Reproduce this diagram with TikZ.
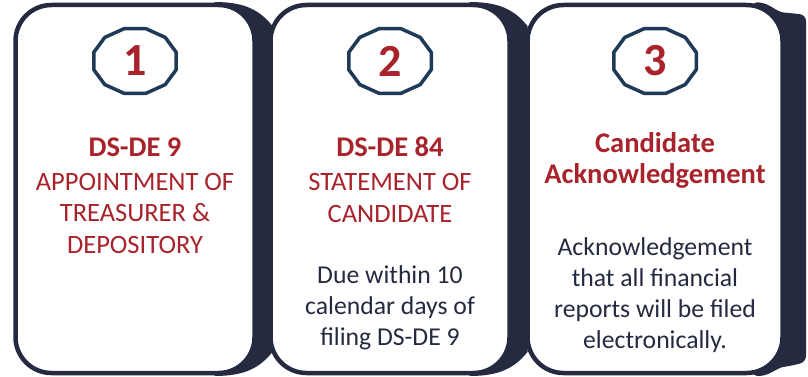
\documentclass[tikz,border=0pt]{standalone}
\usepackage{fontspec}
\setmainfont{Carlito}
\definecolor{navy}{HTML}{262A40}
\definecolor{badgeblue}{HTML}{1F3A57}
\definecolor{darkred}{HTML}{A8232B}

\begin{document}
\begin{tikzpicture}[
  x=1pt, y=-1pt,
  card/.style={
    draw=navy,
    line width=4.5pt,
    fill=white,
    rounded corners=36pt,
    minimum height=368pt,
    inner sep=0pt
  },
  strip/.style={fill=navy},
  badge/.style={draw=badgeblue, line width=3.5pt, line join=round},
  num/.style={font=\fontsize{46}{46}\selectfont\bfseries, text=darkred, inner sep=0pt},
  title/.style={font=\fontsize{28.5}{31}\selectfont\bfseries, text=darkred, align=center, inner sep=0pt, anchor=base},
  subtitle/.style={font=\fontsize{26.5}{31.5}\selectfont, text=darkred, align=center, inner sep=0pt, anchor=base},
  body/.style={font=\fontsize{25.7}{31}\selectfont, text=navy, align=center, inner sep=0pt, anchor=base}
]
\useasboundingbox (0,0) rectangle (808,377);

% dark strips behind the cards
\foreach \r in {254.5,509.5}
  \fill[strip] (\r-40,2) .. controls (\r-10,2) and (\r+5,10) .. (\r+18,26)
    -- (\r+18,352) .. controls (\r+5,368) and (\r-10,376) .. (\r-40,376) -- cycle;
\fill[strip, rounded corners=6pt] (752,2) .. controls (770,3) and (776,12) .. (790,13)
  -- (806,15) -- (806,362) -- (790,366) .. controls (776,368) and (770,376) .. (752,376) -- cycle;

% cards
\node[card, minimum width=239pt] (card1) at (135,189) {};
\node[card, minimum width=239pt] (card2) at (390,189) {};
\node[card, minimum width=255pt] (card3) at (655,189) {};

% number badges
\foreach \b/\cx in {1/135,2/390,3/655} {
  \coordinate (b\b) at (\cx,61);
  \draw[badge, shift={(b\b)}] plot[samples=13, domain=15:375] ({42.7*cos(\x)},{33.4*sin(\x)}) -- cycle;
  \node[num] (num\b) at (b\b) {\b};
}

% card 1 (base = last line)
\node[title] (title1) at (135,157) {DS-DE 9};
\node[subtitle] (sub1) at (135,253) {APPOINTMENT OF\\TREASURER \&\\DEPOSITORY};

% card 2
\node[title] (title2) at (390,157) {DS-DE 84};
\node[subtitle] (sub2) at (390,222) {STATEMENT OF\\CANDIDATE};
\node[body] (due2) at (390,345) {Due within 10\\calendar days of\\filing DS-DE 9};

% card 3
\node[title] (title3) at (655,183) {Candidate\\Acknowledgement};
\node[body] (ack3) at (655,348) {Acknowledgement\\that all financial\\reports will be filed\\electronically.};
\end{tikzpicture}
\end{document}
